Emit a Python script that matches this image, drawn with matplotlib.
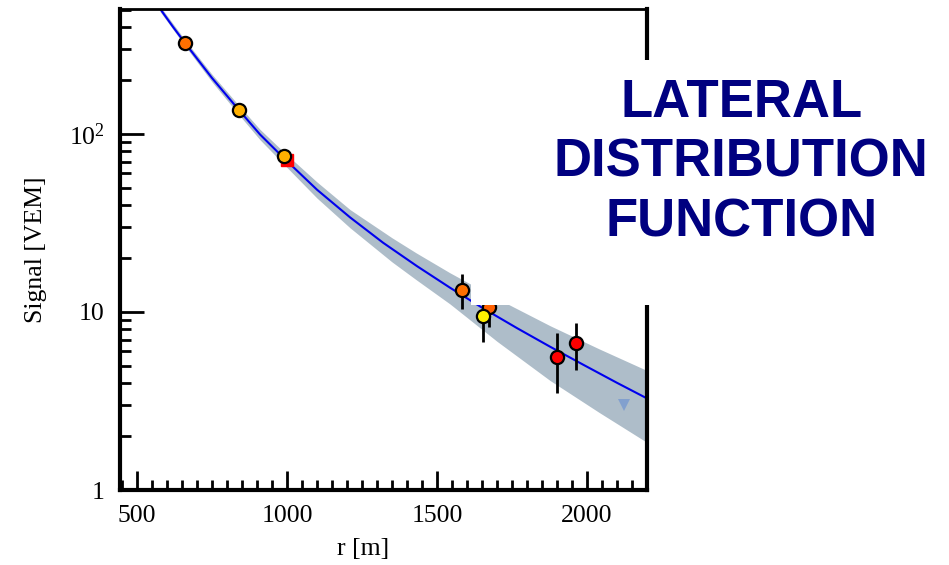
import matplotlib
matplotlib.use("Agg")
import matplotlib.pyplot as plt
from matplotlib.patches import Rectangle
from matplotlib.ticker import MultipleLocator, FixedLocator, FixedFormatter, LogLocator, NullFormatter

# fitted LDF curve
fit_r = [577, 620, 660, 750, 840, 910, 987, 1100, 1210, 1320, 1433, 1543, 1653, 1767, 1877, 1987, 2100, 2200]
fit_s = [504, 399, 324, 206, 136, 99.3, 73.8, 48.6, 34.0, 24.5, 18.1, 13.7, 10.5, 8.11, 6.38, 5.06, 4.0, 3.27]

# uncertainty band
band_r = [577, 660, 750, 840, 910, 987, 1100, 1210, 1350, 1430, 1543, 1700, 1877, 2040, 2200]
band_hi = [521, 337, 216, 144, 106, 79.8, 53.7, 37.6, 26.1, 21.5, 16.6, 11.9, 8.37, 6.21, 4.69]
band_lo = [486, 312, 196, 128, 92.7, 68.2, 43.6, 29.7, 19.1, 15.2, 11.1, 6.84, 4.12, 2.73, 1.85]

# station signals
st_r = [660, 840, 990, 1583, 1673, 1653, 1900, 1963]
st_s = [324, 136, 75, 13.3, 10.7, 9.5, 5.6, 6.7]
st_lo = [0, 0, 4, 2.9, 2.5, 2.7, 2.1, 2.0]
st_hi = [0, 0, 4, 3.0, 1.0, 0.8, 2.0, 2.0]
st_col = ['#FF7000', '#FFB000', '#FFB000', '#FF7000', '#FF6000', '#FFF000', '#FF0000', '#FF0000']

# saturated station (square) and non-triggered station (triangle)
sat_r, sat_s = [1000], [71]
nt_r, nt_s = [2123], [3.0]

fig = plt.figure(figsize=(9.49, 5.65), dpi=100)
ax = fig.add_axes([0.1264, 0.1327, 0.5554, 0.8513])

ax.fill_between(band_r, band_lo, band_hi, color='#AEBDC9', lw=0, zorder=1)
ax.plot(fit_r, fit_s, color='#0000EE', lw=1.5, zorder=2)
ax.plot(sat_r, sat_s, 's', color='#FF0000', ms=9, zorder=3)
ax.plot(nt_r, nt_s, 'v', color='#7799D0', ms=9, alpha=0.8, mew=0, zorder=3)
for r, s, lo, hi, c in zip(st_r, st_s, st_lo, st_hi, st_col):
    ax.errorbar([r], [s], yerr=[[lo], [hi]], fmt='o', color='black', mfc=c, mec='black',
                ms=9.5, mew=1.6, elinewidth=2, capsize=0, zorder=4)

ax.set_yscale('log')
ax.set_xlim(443, 2200)
ax.set_ylim(1, 503)

serif = 'Liberation Serif'
ax.xaxis.set_major_locator(FixedLocator([500, 1000, 1500, 2000]))
ax.xaxis.set_minor_locator(MultipleLocator(50))
ax.yaxis.set_major_locator(FixedLocator([1, 10, 100]))
ax.yaxis.set_major_formatter(FixedFormatter(['1', '10', r'$\mathregular{10^2}$']))
ax.yaxis.set_minor_locator(LogLocator(base=10, subs=range(2, 10)))
ax.yaxis.set_minor_formatter(NullFormatter())

ax.tick_params(which='both', direction='in', top=False, right=False, width=2, labelsize=18.5, pad=11)
ax.tick_params(which='major', axis='y', length=17)
ax.tick_params(which='minor', axis='y', length=8)
ax.tick_params(which='major', axis='x', length=14)
ax.tick_params(which='minor', axis='x', length=7)
for lab in ax.get_xticklabels() + ax.get_yticklabels():
    lab.set_family(serif)

for side, w in [('left', 3), ('bottom', 3), ('right', 3), ('top', 2)]:
    ax.spines[side].set_linewidth(w)

ax.set_xlabel('r [m]', family=serif, fontsize=18.5)
ax.xaxis.set_label_coords(0.461, -0.1)
ax.set_ylabel('Signal [VEM]', family=serif, fontsize=18.5)
ax.yaxis.set_label_coords(-0.139, 0.5)

# white box with the title on top of the right part of the plot
fig.add_artist(Rectangle((0.4963, 0.4602), 0.51, 0.4336, transform=fig.transFigure,
                         facecolor='white', edgecolor='none', zorder=5))
fig.text(0.781, 0.712, 'LATERAL\nDISTRIBUTION\nFUNCTION', ha='center', va='center',
         family='Liberation Sans', fontweight='bold', fontsize=38, color='#000080',
         linespacing=1.26, zorder=6)

fig.savefig('out.png', dpi=100)
